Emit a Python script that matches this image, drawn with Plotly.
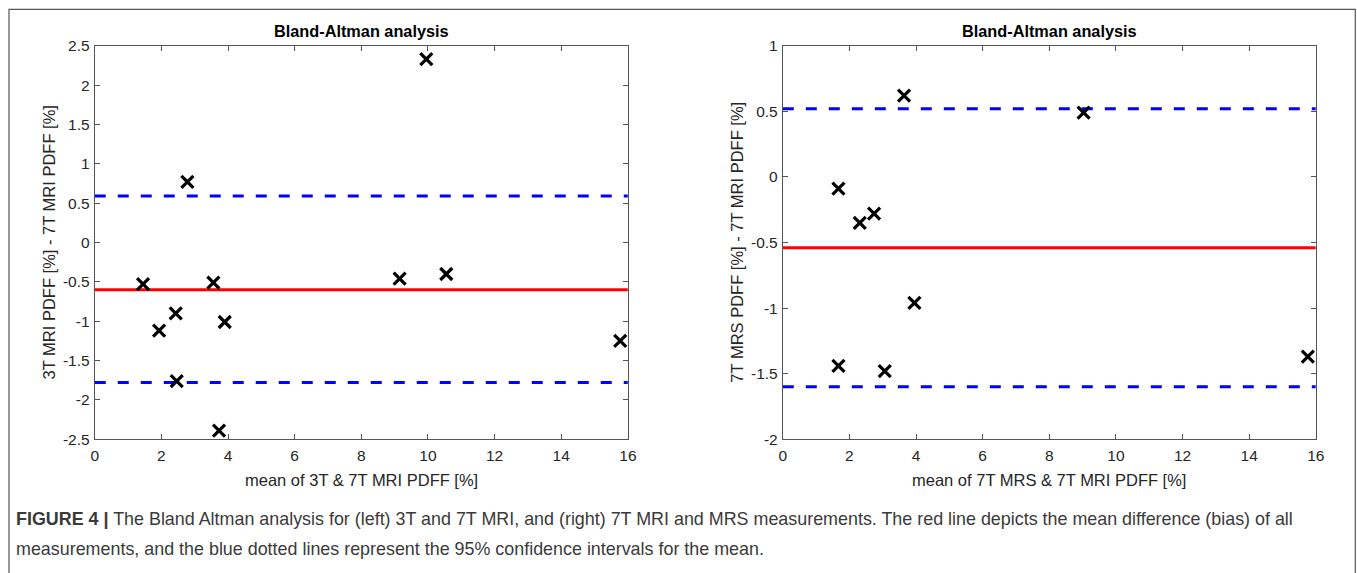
import plotly.graph_objects as go

# ---------------- data ----------------
left_x = [1.45, 1.93, 2.43, 2.46, 2.78, 3.56, 3.90, 3.73, 9.15, 9.95, 10.55, 15.77]
left_y = [-0.53, -1.12, -0.90, -1.76, 0.77, -0.51, -1.01, -2.39, -0.46, 2.33, -0.40, -1.25]
left_bias = -0.60
left_upper = 0.59
left_lower = -1.78

right_x = [1.67, 2.31, 2.74, 3.64, 3.95, 1.67, 3.06, 9.03, 15.76]
right_y = [-0.09, -0.35, -0.28, 0.62, -0.96, -1.44, -1.48, 0.49, -1.37]
right_bias = -0.54
right_upper = 0.52
right_lower = -1.60

x_range = [0, 16]
x_ticks = [0, 2, 4, 6, 8, 10, 12, 14, 16]
x_ticktext = ["0", "2", "4", "6", "8", "10", "12", "14", "16"]
left_yticks = [2.5, 2, 1.5, 1, 0.5, 0, -0.5, -1, -1.5, -2, -2.5]
left_yticktext = ["2.5", "2", "1.5", "1", "0.5", "0", "-0.5", "-1", "-1.5", "-2", "-2.5"]
right_yticks = [1, 0.5, 0, -0.5, -1, -1.5, -2]
right_yticktext = ["1", "0.5", "0", "-0.5", "-1", "-1.5", "-2"]

title_text = "Bland-Altman analysis"
left_xlabel = "mean of 3T &amp; 7T MRI PDFF [%]"
left_ylabel = "3T MRI PDFF [%] - 7T MRI PDFF [%]"
right_xlabel = "mean of 7T MRS &amp; 7T MRI PDFF [%]"
right_ylabel = "7T MRS PDFF [%] - 7T MRI PDFF [%]"
caption1 = ("<b>FIGURE 4 |</b> The Bland Altman analysis for (left) 3T and 7T MRI, and (right) 7T MRI and MRS "
            "measurements. The red line depicts the mean difference (bias) of all")
caption2 = "measurements, and the blue dotted lines represent the 95% confidence intervals for the mean."

# ---------------- layout geometry ----------------
# target positions below are in pixels of the final 1357x573 picture
OX, SX = 2.5, 0.991
OY, SY = 7.2, 0.972
W, H = 1367, 582
FONT = "Liberation Sans, Arial, Helvetica, sans-serif"
TXT = "#262626"
AX = "#555555"

def px(x):
    return ((x - OX) / SX) / W

def py(y):
    return 1 - ((y - OY) / SY) / H

L_dom = [px(93.3), px(626.7)]
R_dom = [px(781.7), px(1315.0)]
Y_dom = [py(438), py(44)]

fig = go.Figure()

def add_panel(xs, ys, bias, up, lo, xa, ya):
    for val in (up, lo):
        fig.add_trace(go.Scatter(x=x_range, y=[val, val], mode="lines",
                                 line=dict(color="#0000ff", width=3, dash="11px,12px"),
                                 xaxis=xa, yaxis=ya, hoverinfo="skip", showlegend=False))
    fig.add_trace(go.Scatter(x=x_range, y=[bias, bias], mode="lines",
                             line=dict(color="#ff0000", width=3),
                             xaxis=xa, yaxis=ya, hoverinfo="skip", showlegend=False))
    fig.add_trace(go.Scatter(x=xs, y=ys, mode="markers",
                             marker=dict(symbol="x-thin-open", size=12, color="black",
                                         line=dict(color="black", width=3.2)),
                             xaxis=xa, yaxis=ya, showlegend=False))

add_panel(left_x, left_y, left_bias, left_upper, left_lower, "x", "y")
add_panel(right_x, right_y, right_bias, right_upper, right_lower, "x2", "y2")

common_axis = dict(showline=True, linecolor=AX, linewidth=1, mirror="ticks",
                   ticks="inside", ticklen=5, tickcolor=AX, tickwidth=1,
                   showgrid=False, zeroline=False,
                   tickfont=dict(family=FONT, size=15.5, color=TXT))

fig.update_layout(
    width=W, height=H,
    margin=dict(l=0, r=0, t=0, b=0),
    paper_bgcolor="white", plot_bgcolor="white",
    xaxis=dict(domain=L_dom, range=x_range, tickvals=x_ticks, ticktext=x_ticktext,
               anchor="y", ticklabelstandoff=2, **common_axis),
    yaxis=dict(domain=Y_dom, range=[-2.5, 2.5], tickvals=left_yticks, ticktext=left_yticktext,
               anchor="x", ticklabelstandoff=1, **common_axis),
    xaxis2=dict(domain=R_dom, range=x_range, tickvals=x_ticks, ticktext=x_ticktext,
                anchor="y2", ticklabelstandoff=2, **common_axis),
    yaxis2=dict(domain=Y_dom, range=[-2, 1], tickvals=right_yticks, ticktext=right_yticktext,
                anchor="x2", ticklabelstandoff=1, **common_axis),
)

ann = []
for dom, xl, yl, ylx in ((L_dom, left_xlabel, left_ylabel, 47.5), (R_dom, right_xlabel, right_ylabel, 735)):
    cx = (dom[0] + dom[1]) / 2
    ann.append(dict(text="<b>" + title_text + "</b>", x=cx, y=py(29.5), xref="paper", yref="paper",
                    xanchor="center", yanchor="middle", showarrow=False,
                    font=dict(family=FONT, size=16.3, color="black")))
    ann.append(dict(text=xl, x=cx, y=py(478.5), xref="paper", yref="paper",
                    xanchor="center", yanchor="middle", showarrow=False,
                    font=dict(family=FONT, size=16.5, color=TXT)))
    ann.append(dict(text=yl, x=px(ylx), y=(Y_dom[0] + Y_dom[1]) / 2, xref="paper", yref="paper",
                    xanchor="center", yanchor="middle", showarrow=False, textangle=-90,
                    font=dict(family=FONT, size=16.5, color=TXT)))

ann.append(dict(text=caption1, x=px(13), y=py(518), xref="paper", yref="paper",
                xanchor="left", yanchor="middle", showarrow=False, align="left",
                font=dict(family=FONT, size=17.9, color="#3a3a3a")))
ann.append(dict(text=caption2, x=px(13), y=py(548), xref="paper", yref="paper",
                xanchor="left", yanchor="middle", showarrow=False, align="left",
                font=dict(family=FONT, size=17.9, color="#3a3a3a")))
fig.update_layout(annotations=ann)

fig.add_shape(type="rect", xref="paper", yref="paper",
              x0=px(7.5), x1=px(1354.5), y0=-0.1, y1=py(7.5),
              line=dict(color="#555555", width=1.2), fillcolor="rgba(0,0,0,0)")

fig.write_html("out.html")
